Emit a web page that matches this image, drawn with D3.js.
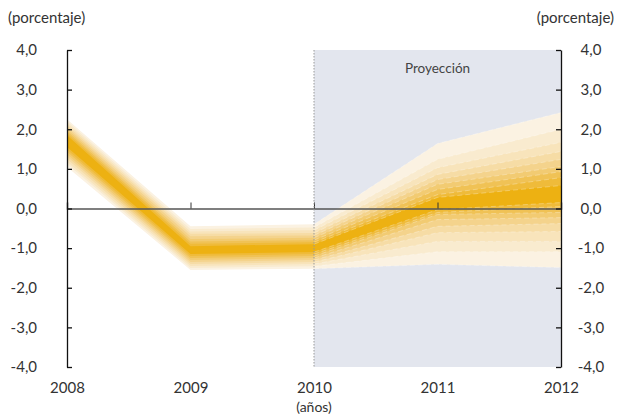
<!DOCTYPE html>
<html>
<head>
<meta charset="utf-8">
<script src="https://cdn.jsdelivr.net/npm/d3@7"></script>
<style>
  body { margin: 0; background: #fff; }
  svg text { font-family: Lato, "Open Sans", sans-serif; fill: #333; }
</style>
</head>
<body>
<div id="chart"></div>
<script>
// años y valores
let years = [2008, 2009, 2010, 2011, 2012];

// limites superiores de cada banda, de la central (0) a la exterior (8)
let fanUpper = [
  [1.85, -0.95, -0.90, 0.28, 0.58],
  [1.90, -0.89, -0.85, 0.35, 0.78],
  [1.95, -0.83, -0.80, 0.48, 0.93],
  [2.00, -0.77, -0.74, 0.61, 1.06],
  [2.05, -0.70, -0.68, 0.73, 1.24],
  [2.10, -0.64, -0.62, 0.86, 1.44],
  [2.15, -0.58, -0.55, 1.03, 1.67],
  [2.20, -0.52, -0.48, 1.24, 2.00],
  [2.25, -0.45, -0.40, 1.64, 2.42]
];
// limites inferiores
let fanLower = [
  [1.55, -1.15, -1.10, -0.03, 0.15],
  [1.49, -1.20, -1.15, -0.10, 0.05],
  [1.43, -1.25, -1.20, -0.15, -0.10],
  [1.37, -1.30, -1.25, -0.28, -0.23],
  [1.31, -1.35, -1.30, -0.45, -0.38],
  [1.25, -1.40, -1.35, -0.61, -0.58],
  [1.18, -1.45, -1.40, -0.83, -0.83],
  [1.12, -1.50, -1.46, -1.09, -1.09],
  [1.05, -1.55, -1.52, -1.41, -1.49]
];
let bandColors = ["#edb112", "#efbb3a", "#f0c255", "#f2cb72", "#f4d38c",
                  "#f6dca5", "#f8e4bb", "#f9ebcf", "#fbf2e2"];
let yTicks = [-4, -3, -2, -1, 0, 1, 2, 3, 4];
let projStart = 2010;

let W = 618, H = 419;
let x = d3.scaleLinear().domain([2008, 2012]).range([67, 561]);
let y = d3.scaleLinear().domain([-4, 4]).range([367, 50]);
let fmt = d => d.toFixed(1).replace(".", ",");

let svg = d3.select("#chart").append("svg").attr("width", W).attr("height", H);

// zona de proyeccion
svg.append("rect")
  .attr("x", x(projStart)).attr("y", y(4))
  .attr("width", x(2012) - x(projStart)).attr("height", y(-4) - y(4))
  .attr("fill", "#e3e6ee");

svg.append("text").attr("x", (x(2011))).attr("y", 73)
  .attr("text-anchor", "middle").style("font-size", "13.5px").style("fill", "#444")
  .text("Proyección");

// abanico: bandas de la exterior a la central
let area = d3.area()
  .x((d, i) => x(years[i]))
  .y0(d => y(d[0]))
  .y1(d => y(d[1]));

for (let k = fanUpper.length - 1; k >= 0; k--) {
  let pts = years.map((yr, i) => [fanLower[k][i], fanUpper[k][i]]);
  svg.append("path").datum(pts).attr("d", area).attr("fill", bandColors[k]);
}

// lineas finas entre bandas, solo en la proyeccion
let pi = years.indexOf(projStart);
let line = d3.line().x(d => x(d[0])).y(d => y(d[1]));
fanUpper.concat(fanLower).forEach(b => {
  let seg = years.slice(pi).map((yr, i) => [yr, b[pi + i]]);
  svg.append("path").datum(seg).attr("d", line)
    .attr("fill", "none").attr("stroke", "#fff").attr("stroke-opacity", 0.35)
    .attr("stroke-width", 0.8).attr("stroke-dasharray", "5,3");
});

// eje horizontal en cero
let xAxis0 = svg.append("g").attr("transform", "translate(0," + y(0) + ")")
  .call(d3.axisTop(x).tickValues([2009, 2010, 2011]).tickSize(6).tickFormat(""));
xAxis0.select(".domain").attr("stroke", "#555").attr("stroke-width", 1.5);
xAxis0.selectAll(".tick line").attr("stroke", "#333");

// linea punteada de inicio de proyeccion
svg.append("line")
  .attr("x1", x(projStart)).attr("x2", x(projStart))
  .attr("y1", y(4)).attr("y2", y(-4))
  .attr("stroke", "#999").attr("stroke-width", 1).attr("stroke-dasharray", "1.5,1.5");

// ejes verticales
let yLeft = svg.append("g").attr("transform", "translate(" + x(2008) + ",0)")
  .call(d3.axisLeft(y).tickValues(yTicks).tickSize(-5).tickPadding(30).tickSizeOuter(0).tickFormat(fmt));
let yRight = svg.append("g").attr("transform", "translate(" + x(2012) + ",0)")
  .call(d3.axisRight(y).tickValues(yTicks).tickSize(-5).tickPadding(30).tickSizeOuter(0).tickFormat(fmt));
yRight.selectAll(".tick text").attr("text-anchor", "middle");
[yLeft, yRight].forEach(g => {
  g.select(".domain").attr("stroke", "#111").attr("stroke-width", 1.3);
  g.selectAll(".tick line").attr("stroke", "#111").attr("stroke-width", 1.3);
  g.selectAll(".tick text").style("font-size", "15px").style("fill", "#333");
});

// etiquetas de años
let xAxisB = svg.append("g").attr("transform", "translate(0," + y(-4) + ")")
  .call(d3.axisBottom(x).tickValues(years).tickSize(0).tickPadding(15).tickFormat(d3.format("d")));
xAxisB.select(".domain").remove();
xAxisB.selectAll(".tick text").style("font-size", "15px").style("fill", "#333");

svg.append("text").attr("x", x(2010)).attr("y", 412).attr("text-anchor", "middle")
  .style("font-size", "14px").text("(años)");
svg.append("text").attr("x", 8).attr("y", 23).style("font-size", "15px").text("(porcentaje)");
svg.append("text").attr("x", 614).attr("y", 23).attr("text-anchor", "end")
  .style("font-size", "15px").text("(porcentaje)");
</script>
</body>
</html>
